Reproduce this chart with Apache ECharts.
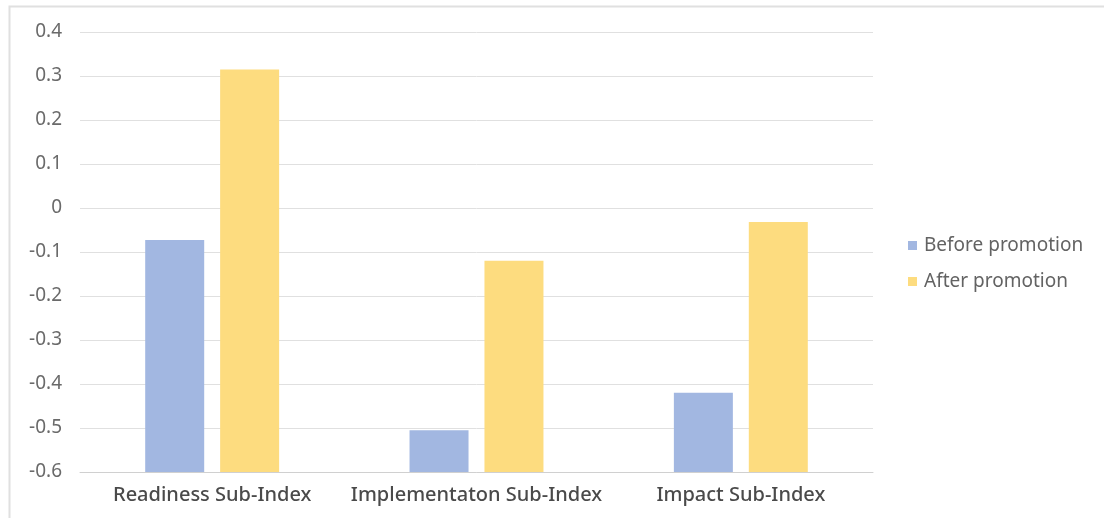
<!DOCTYPE html>
<html>
<head>
<meta charset="utf-8">
<script src="https://cdn.jsdelivr.net/npm/echarts@6/dist/echarts.min.js"></script>
<style>
  html, body { margin: 0; padding: 0; background: #ffffff; }
  #chart { width: 1104px; height: 518px; }
</style>
</head>
<body>
<div id="chart"></div>
<script>
const categories = ['Readiness Sub-Index', 'Implementaton Sub-Index', 'Impact Sub-Index'];
const beforePromotion = [-0.073, -0.505, -0.42];
const afterPromotion = [0.315, -0.12, -0.032];
const yTicks = [0.4, 0.3, 0.2, 0.1, 0, -0.1, -0.2, -0.3, -0.4, -0.5, -0.6];

// Bars rise from the bottom of the value axis, so each bar sits on an
// invisible base segment that runs from 0 down to the axis minimum.
const axisMin = Math.min.apply(null, yTicks);
const axisMax = Math.max.apply(null, yTicks);
const baseValues = categories.map(() => axisMin);
const rise = arr => arr.map(v => +(v - axisMin).toFixed(4));

const chart = echarts.init(document.getElementById('chart'), null, { renderer: 'canvas' });

const baseSeries = stackName => ({
  type: 'bar',
  stack: stackName,
  stackStrategy: 'all',
  data: baseValues,
  itemStyle: { color: 'rgba(0,0,0,0)' },
  silent: true,
  barWidth: 59,
  barGap: '27%',
  tooltip: { show: false }
});

chart.setOption({
  backgroundColor: '#ffffff',
  animation: false,
  graphic: [{
    type: 'rect',
    shape: { x: 9.5, y: 6.5, width: 1200, height: 600 },
    style: { fill: null, stroke: '#e0e0e0', lineWidth: 2 },
    silent: true
  }],
  legend: {
    orient: 'vertical',
    left: 903,
    top: 231,
    itemWidth: 9,
    itemHeight: 9,
    itemGap: 17,
    icon: 'rect',
    data: ['Before promotion', 'After promotion'],
    textStyle: { fontFamily: 'Noto Sans', fontSize: 19, color: '#636363', padding: [0, 0, 0, 2] }
  },
  grid: { left: 80, right: 231, top: 32, bottom: 46, containLabel: false },
  xAxis: {
    type: 'category',
    data: categories,
    axisLine: { show: true, onZero: false, lineStyle: { color: '#d0d0d0', width: 1 } },
    axisTick: { show: false },
    axisLabel: {
      interval: 0,
      fontFamily: 'Noto Sans',
      fontSize: 20,
      fontWeight: 500,
      color: '#4a4a4a',
      margin: 13
    }
  },
  yAxis: {
    type: 'value',
    min: axisMin,
    max: axisMax,
    interval: 0.1,
    axisLine: { show: false },
    axisTick: { show: false },
    splitLine: { lineStyle: { color: '#e0e0e0', width: 1 } },
    axisLabel: {
      fontFamily: 'Noto Sans',
      fontSize: 19,
      color: '#6a6a6a',
      margin: 18,
      formatter: v => {
        const r = Math.round(v * 10) / 10;
        return r === 0 ? '0' : String(r);
      }
    }
  },
  series: [
    baseSeries('before'),
    {
      name: 'Before promotion',
      type: 'bar',
      stack: 'before',
      stackStrategy: 'all',
      data: rise(beforePromotion),
      barWidth: 59,
      barGap: '27%',
      itemStyle: { color: '#a2b7e1' }
    },
    baseSeries('after'),
    {
      name: 'After promotion',
      type: 'bar',
      stack: 'after',
      stackStrategy: 'all',
      data: rise(afterPromotion),
      barWidth: 59,
      barGap: '27%',
      itemStyle: { color: '#fddc7f' }
    }
  ]
});
</script>
</body>
</html>
